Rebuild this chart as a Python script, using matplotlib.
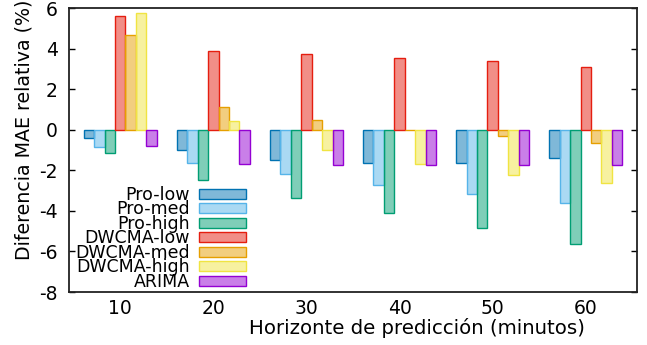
import matplotlib
matplotlib.use("Agg")
import matplotlib.pyplot as plt
import numpy as np

# horizons (minutes)
horizons = ["10", "20", "30", "40", "50", "60"]

series_names = ["Pro-low", "Pro-med", "Pro-high", "DWCMA-low",
                "DWCMA-med", "DWCMA-high", "ARIMA"]

pro_low = [-0.39, -0.99, -1.48, -1.63, -1.66, -1.38]
pro_med = [-0.87, -1.63, -2.20, -2.71, -3.15, -3.63]
pro_high = [-1.13, -2.48, -3.35, -4.11, -4.86, -5.65]
dwcma_low = [5.63, 3.87, 3.75, 3.55, 3.37, 3.10]
dwcma_med = [4.65, 1.12, 0.49, -0.02, -0.31, -0.64]
dwcma_high = [5.75, 0.44, -0.99, -1.71, -2.24, -2.61]
arima = [-0.79, -1.68, -1.76, -1.76, -1.73, -1.73]

series = [pro_low, pro_med, pro_high, dwcma_low, dwcma_med, dwcma_high, arima]
colors = ["#0072B2", "#56B4E9", "#009E73", "#E51E10",
          "#E69F00", "#F0E442", "#9400D3"]

fs = 13.5
plt.rcParams["font.family"] = "DejaVu Sans"
plt.rcParams["axes.unicode_minus"] = False

fig = plt.figure(figsize=(6.47, 3.45), dpi=100)
ax = fig.add_axes([69 / 647, 53 / 345, 568 / 647, 284 / 345])

x = np.arange(len(horizons))
w = 0.112
for j, (vals, c, name) in enumerate(zip(series, colors, series_names)):
    ax.bar(x + (j - 3) * w, vals, width=w,
           color=matplotlib.colors.to_rgba(c, 0.5),
           edgecolor=c, linewidth=1.0, label=name)

ax.set_xlim(-0.55, 5.55)
ax.set_ylim(-8, 6)
ax.set_yticks(np.arange(-8, 7, 2))
ax.set_xticks(x)
ax.set_xticklabels(horizons)
ax.tick_params(axis="y", direction="in", right=True, length=4, width=1,
               pad=8, labelsize=fs)
ax.tick_params(axis="x", length=0, pad=5, labelsize=fs)
for s in ax.spines.values():
    s.set_linewidth(1.3)
    s.set_color("#222222")

fig.text(24 / 647, 1 - 130 / 345, "Diferencia MAE relativa (%)",
         rotation=90, ha="center", va="center", fontsize=13.7)
fig.text(417 / 647, 1 - 328 / 345, "Horizonte de predicción (minutos)",
         ha="center", va="center", fontsize=14.2)

ax.legend(loc="lower right", bbox_to_anchor=(246 / 647, 54 / 345),
          bbox_transform=fig.transFigure, frameon=False, markerfirst=False,
          fontsize=12.5, handlelength=2.7, handleheight=0.5,
          handletextpad=0.55, labelspacing=-0.2, borderpad=0,
          borderaxespad=0)

fig.savefig("out.png", dpi=100)
